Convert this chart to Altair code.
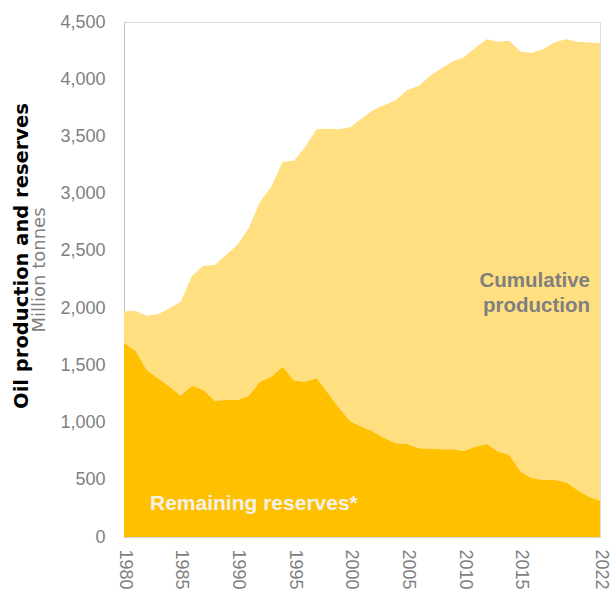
import altair as alt
import pandas as pd

years = list(range(1980, 2023))
remaining_reserves = [1695, 1628, 1459, 1387, 1314, 1235, 1322, 1285, 1191, 1197,
                      1197, 1232, 1357, 1401, 1488, 1366, 1357, 1387, 1256, 1124,
                      1008, 964, 920, 862, 818, 813, 775, 772, 766, 766,
                      752, 789, 813, 746, 717, 571, 513, 498, 498, 478,
                      411, 352, 317]
cumulative_production = [275, 350, 475, 559, 684, 821, 959, 1086, 1186, 1267,
                         1355, 1465, 1573, 1660, 1791, 1922, 2054, 2175, 2312, 2438,
                         2575, 2694, 2811, 2913, 3001, 3093, 3166, 3256, 3329, 3388,
                         3440, 3487, 3536, 3582, 3620, 3670, 3719, 3763, 3824, 3871,
                         3917, 3968, 3997]
x_ticks = [1980, 1985, 1990, 1995, 2000, 2005, 2010, 2015, 2022]
y_ticks = [0, 500, 1000, 1500, 2000, 2500, 3000, 3500, 4000, 4500]

df = pd.DataFrame({"year": years, "reserves": remaining_reserves,
                   "cumulative": cumulative_production})

GREY = "#7F7F7F"
FONT = "Liberation Sans"

x_enc = alt.X("year:Q", scale=alt.Scale(domain=[1980, 2022], nice=False, zero=False),
              axis=alt.Axis(values=x_ticks, format="d", labelAngle=90, labelPadding=12,
                            ticks=False, grid=False, labelFontSize=18, labelColor=GREY,
                            labelFont=FONT, domainColor="#D0D0D0", title=None,
                            labelOverlap=False))
y_axis = alt.Axis(values=y_ticks, format=",.0f", ticks=False, grid=False, labelFontSize=18,
                  labelColor=GREY, labelFont=FONT, labelPadding=19,
                  domainColor="#BFBFBF", title=None)
y_scale = alt.Scale(domain=[0, 4500], nice=False)

base = alt.Chart(df)

cum_area = base.transform_calculate(
    total="datum.reserves + datum.cumulative"
).mark_area(color="#FFDF80", opacity=1).encode(
    x=x_enc,
    y=alt.Y("total:Q", scale=y_scale, axis=y_axis),
    y2="reserves:Q",
)

res_area = base.mark_area(color="#FFC000", opacity=1).encode(
    x=x_enc,
    y=alt.Y("reserves:Q", scale=y_scale, axis=y_axis),
)

def label(text, x, y, size, color, weight="bold", align="left", angle=0,
          baseline="alphabetic", font=FONT):
    return alt.Chart(pd.DataFrame({"t": [text]})).mark_text(
        align=align, baseline=baseline, fontSize=size, fontWeight=weight,
        color=color, angle=angle, font=font
    ).encode(text="t:N", x=alt.value(x), y=alt.value(y))

t1 = label("Cumulative", 466, 265, 20.5, GREY, align="right")
t2 = label("production", 466, 290, 20.5, GREY, align="right")
t3 = label("Remaining reserves*", 26, 488, 21, "#F4F1EA")
t4 = label("Oil production and reserves", -102, 234, 19.5, "#000000", angle=270,
           align="center", baseline="middle", font="DejaVu Sans")
t5 = label("Million tonnes", -84, 248, 18, GREY, weight="normal", angle=270,
           align="center", baseline="middle", font="DejaVu Sans")

chart = alt.layer(cum_area, res_area, t1, t2, t3, t4, t5).properties(
    width=476, height=515,
    padding={"left": 124, "top": 22, "right": 10, "bottom": 53},
    autosize="none",
).configure_view(stroke=None).configure(background="white")

chart.save("out.html", embed_options={"renderer": "svg", "actions": False})
